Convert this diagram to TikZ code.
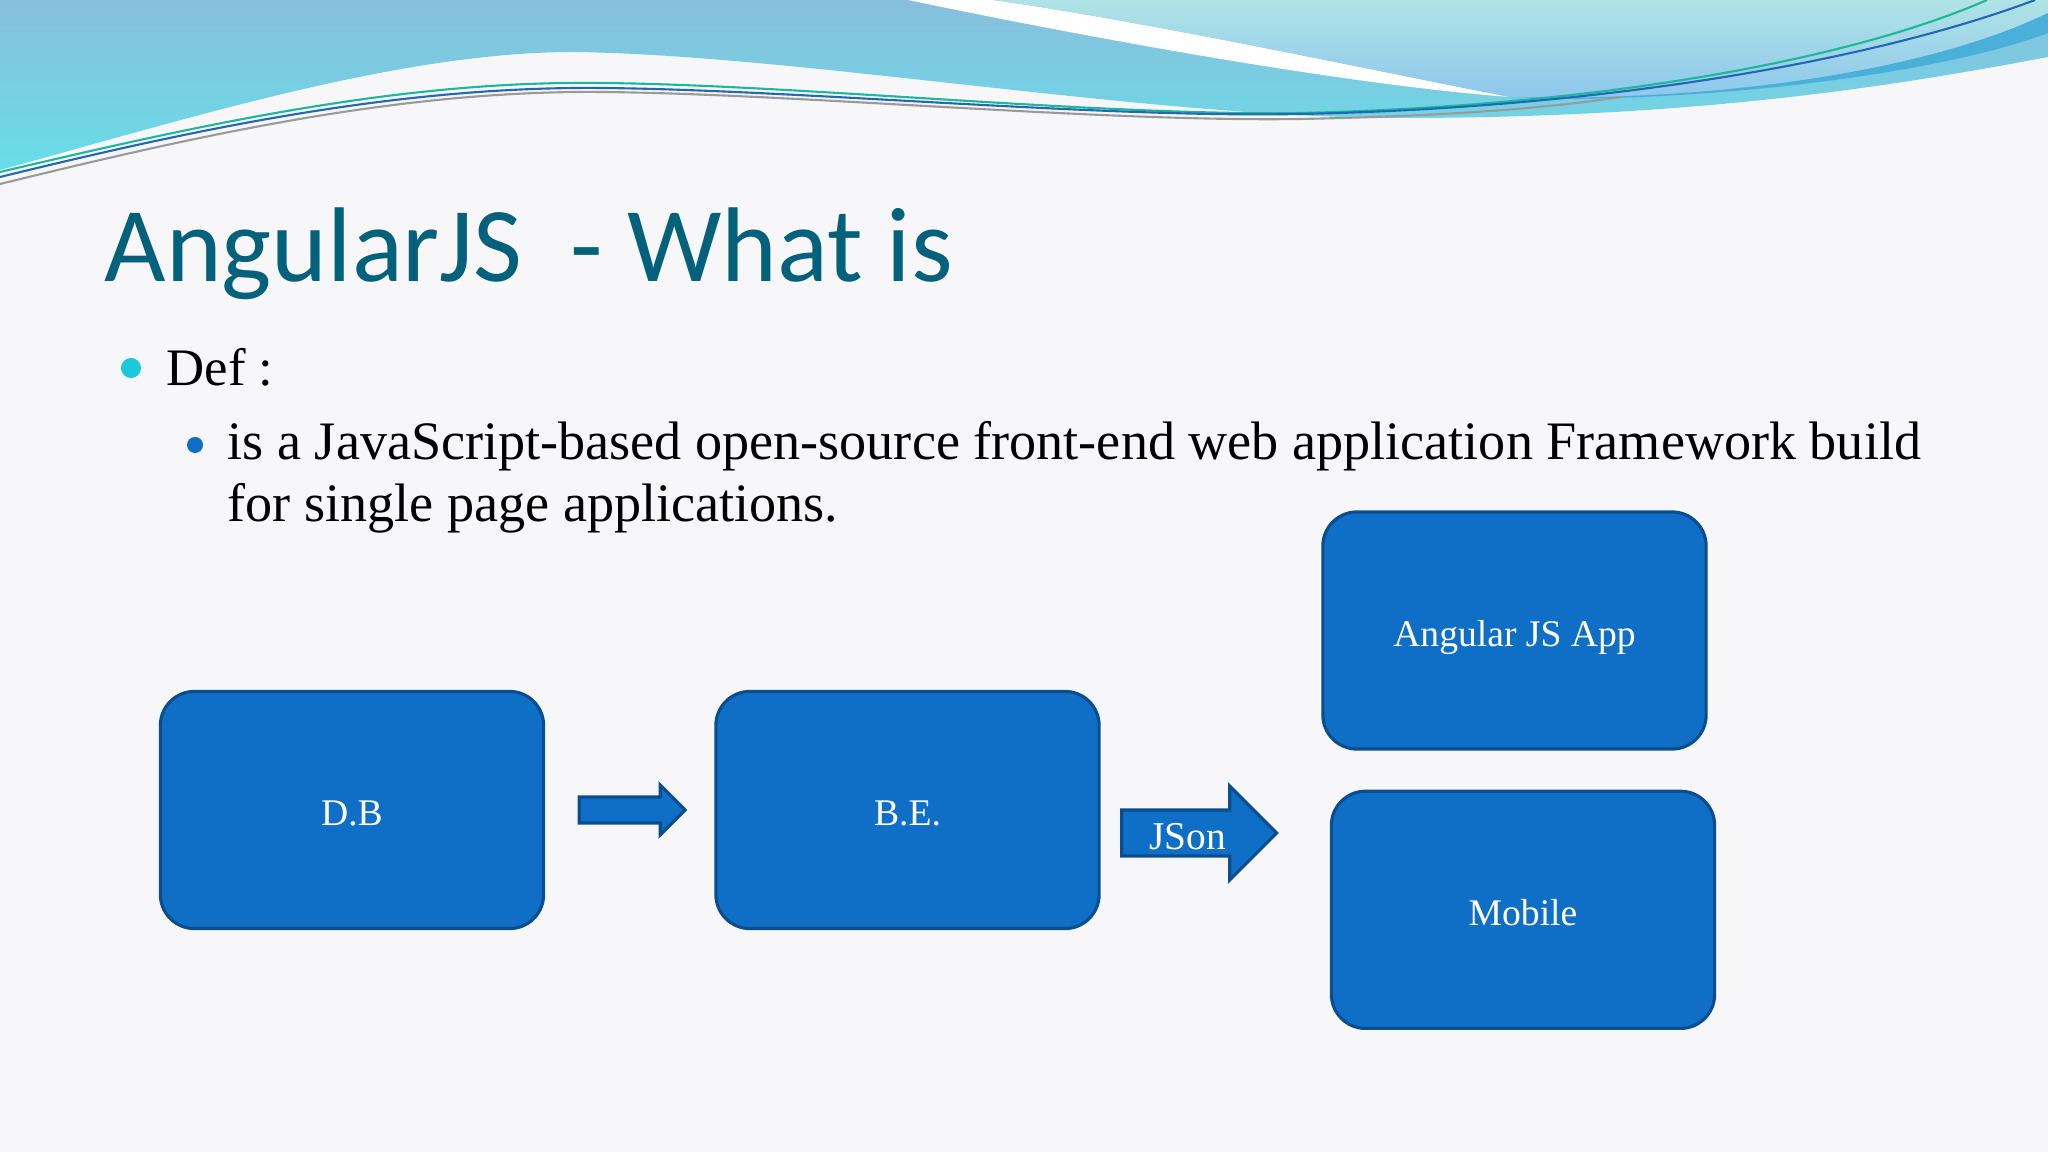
\documentclass[tikz,border=0pt]{standalone}
\usepackage{fontspec}
\setmainfont{Liberation Serif}
\newfontfamily\titlefont{Carlito}
\usetikzlibrary{positioning,calc}

\definecolor{flowBlue}{HTML}{0F6FC6}
\definecolor{flowEdge}{HTML}{0B4E8F}
\definecolor{flowTitle}{HTML}{04617B}
\definecolor{flowCyan}{HTML}{1CC8D9}
\definecolor{slideBg}{HTML}{F7F7F9}
\definecolor{waveTop}{HTML}{88BFDC}
\definecolor{waveLow}{HTML}{68DDE9}
\definecolor{paleTop}{HTML}{B0E3E6}
\definecolor{paleLow}{HTML}{8CC6EC}
\definecolor{bandBlue}{HTML}{4AAFD9}
\definecolor{lineTeal}{HTML}{1DB89B}
\definecolor{lineBlue}{HTML}{2268B4}
\definecolor{lineGrey}{HTML}{9A9A9A}

\begin{document}
\begin{tikzpicture}[
  x=0.01cm, y=-0.01cm,
  node distance=0.39cm and 1.69cm,
  box/.style={rectangle, draw=flowEdge, line width=0.9pt, rounded corners=0.34cm, fill=flowBlue, minimum width=3.83cm, minimum height=2.37cm, text=white, text height=11pt, text depth=2pt, font=\fontsize{10.7}{13}\selectfont},
  blockarrow/.style={draw=flowEdge, line width=0.9pt, fill=flowBlue, line join=miter},
  dot/.style={circle, inner sep=0pt},
  bodytext/.style={anchor=base west, inner sep=0pt, font=\fontsize{15.4}{17.6}\selectfont},
  wave/.style={line width=0.6pt}
]
\fill[slideBg] (0,0) rectangle (2048,1152);
\useasboundingbox (0,0) rectangle (2048,1152);

%% Top wave
\shade[top color=waveTop, bottom color=waveLow] (0,0) -- (0,170) .. controls (190,118) and (400,52) .. (574,52) .. controls (800,55) and (1150,118) .. (1400,118) .. controls (1700,118) and (1900,85) .. (2048,57) -- (2048,0) -- cycle;
\fill[white] (908,0) .. controls (1100,40) and (1350,85) .. (1510,97) .. controls (1380,72) and (1150,22) .. (993,0) -- cycle;
\shade[top color=paleTop, bottom color=paleLow] (993,0) .. controls (1150,22) and (1380,72) .. (1510,97) .. controls (1700,102) and (1920,75) .. (2048,13) -- (2048,0) -- cycle;
\fill[bandBlue] (1510,97) .. controls (1700,102) and (1920,75) .. (2048,13) -- (2048,33) .. controls (1950,70) and (1750,98) .. (1560,99) -- cycle;
\draw[wave, lineTeal] (0,172) .. controls (200,125) and (400,80) .. (603,83) .. controls (800,85) and (1100,116) .. (1300,113) .. controls (1600,106) and (1850,60) .. (1987,0);
\draw[wave, lineBlue] (0,177) .. controls (200,128) and (400,86) .. (603,88) .. controls (800,90) and (1100,118) .. (1300,114) .. controls (1600,108) and (1870,62) .. (2035,0);
\draw[wave, lineGrey] (0,184) .. controls (200,135) and (400,90) .. (603,92) .. controls (800,94) and (1100,122) .. (1300,119) .. controls (1450,116) and (1550,108) .. (1620,97);

%% Title and bullets
\node[anchor=base west, inner sep=0pt, text=flowTitle, font=\titlefont\fontsize{30.2}{36}\selectfont] (title) at (104,282) {AngularJS\ \ - What is};
\node[dot, fill=flowCyan, minimum size=0.2cm] (dot1) at (131,368) {};
\node[bodytext, font=\fontsize{15}{18}\selectfont] (def) at (166,386) {Def :};
\node[dot, fill=flowBlue, minimum size=0.16cm] (dot2) at (195,445) {};
\node[bodytext] (what1) at (227,460) {is a JavaScript-based open-source front-end web application Framework build};
\node[bodytext] (what2) at (227,522) {for single page applications.};

%% Boxes
\node[box] (db) at (352,810) {D.B};
\node[box, right=of db] (be) {B.E.};
\node[box] (app) at (1514.5,630.5) {Angular JS App};
\node[box, below=of app, xshift=0.085cm] (mobile) {Mobile};

%% Block arrows
\draw[blockarrow] ($(db.east)+(34,-13)$) -- ++(81,0) -- ++(0,-12) -- ++(25,25) -- ++(-25,25) -- ++(0,-12) -- ++(-81,0) -- cycle;
\draw[blockarrow] ($(be.east)+(21,0)$) -- ++(108,0) -- ++(0,-24) -- ++(47,47) -- ++(-47,47) -- ++(0,-24) -- ++(-108,0) -- cycle;
\node[inner sep=0pt, text=white, font=\fontsize{11.2}{13}\selectfont] (json) at ($(be.east)+(87,27)$) {JSon};
\end{tikzpicture}
\end{document}
